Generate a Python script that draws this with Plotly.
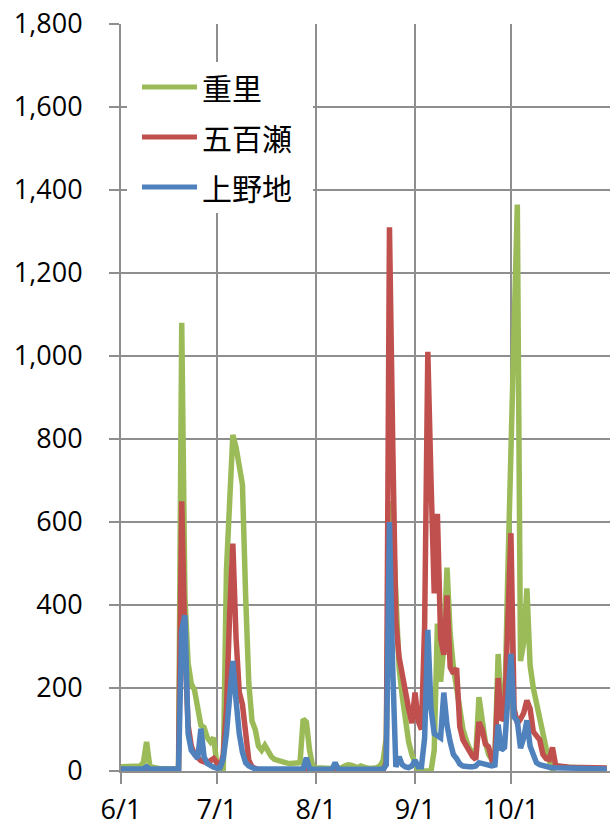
import pandas as pd
import plotly.graph_objects as go

# Daily flow at three stations, 6/1 - 10/31
start_date = "2013-06-01"
n_days = 153

series_names = ["重里", "五百瀬", "上野地"]
series_colors = ["#9BBB59", "#C0504D", "#4F81BD"]

shigesato = [
    10, 10, 10, 11, 11, 12, 12, 20, 70, 12,
    8, 7, 6, 6, 5, 5, 5, 5, 5, 1080,
    420, 260, 210, 195, 150, 110, 105, 80, 70, 80,
    15, 0, 5, 485, 650, 810, 780, 740, 690, 420,
    210, 120, 100, 60, 50, 62, 45, 35, 28, 25,
    22, 20, 19, 18, 18, 18, 20, 125, 118, 50,
    10, 8, 7, 7, 6, 6, 6, 7, 6, 8,
    12, 15, 14, 10, 8, 12, 8, 7, 6, 6,
    8, 12, 25, 80, 650, 600, 420, 250, 180, 120,
    70, 40, 15, 0, 0, 0, 0, 0, 50, 355,
    215, 300, 490, 330, 250, 200, 140, 100, 75, 55,
    45, 40, 178, 120, 70, 40, 28, 40, 282, 140,
    125, 470, 760, 1060, 1365, 265, 310, 440, 255, 200,
    160, 120, 88, 55, 25, 2, 12, 10, 10, 9,
    9, 8, 8, 8, 7, 7, 7, 6, 6, 6,
    6, 5, 5,
]

iose = [
    3, 3, 3, 3, 3, 3, 3, 3, 0, 3,
    3, 3, 3, 3, 3, 3, 3, 3, 3, 650,
    300, 110, 60, 40, 30, 25, 22, 20, 25, 30,
    20, 8, 40, 150, 380, 548, 320, 190, 160, 75,
    25, 10, 5, 3, 3, 3, 3, 2, 2, 2,
    2, 2, 2, 2, 2, 2, 2, 2, 2, 2,
    2, 2, 2, 2, 2, 2, 2, 2, 2, 2,
    2, 2, 2, 2, 2, 2, 2, 2, 2, 2,
    2, 2, 2, 20, 1310, 800, 360, 275, 230, 190,
    150, 115, 189, 120, 100, 350, 1010, 700, 428, 620,
    320, 280, 423, 250, 235, 248, 107, 75, 60, 50,
    35, 28, 118, 100, 65, 58, 28, 35, 224, 122,
    130, 350, 573, 150, 115, 125, 140, 170, 150, 95,
    85, 75, 40, 30, 28, 57, 13, 11, 10, 10,
    9, 9, 9, 8, 8, 8, 8, 8, 7, 7,
    7, 7, 7,
]

uenoji = [
    5, 5, 5, 5, 5, 5, 5, 5, 10, 5,
    5, 5, 5, 5, 5, 5, 5, 5, 5, 340,
    375, 90, 50, 40, 30, 102, 34, 18, 12, 9,
    7, 8, 30, 90, 180, 265, 170, 90, 45, 20,
    12, 8, 5, 5, 5, 5, 5, 5, 5, 5,
    5, 5, 5, 5, 5, 5, 5, 5, 32, 6,
    4, 4, 4, 4, 4, 4, 4, 20, 4, 4,
    4, 4, 4, 4, 4, 4, 4, 4, 4, 4,
    4, 4, 4, 15, 600, 250, 10, 34, 15, 10,
    8, 12, 26, 10, 10, 80, 340, 150, 90, 85,
    80, 189, 110, 70, 40, 30, 17, 12, 10, 10,
    10, 12, 20, 18, 15, 14, 12, 14, 112, 50,
    57, 170, 282, 130, 120, 55, 80, 122, 60, 40,
    20, 15, 12, 10, 9, 8, 8, 8, 7, 7,
    7, 7, 6, 6, 6, 6, 6, 6, 5, 5,
    5, 5, 5,
]

tick_dates = ["2013-06-01", "2013-07-01", "2013-08-01", "2013-09-01", "2013-10-01"]
tick_labels = ["6/1", "7/1", "8/1", "9/1", "10/1"]
y_ticks = [0, 200, 400, 600, 800, 1000, 1200, 1400, 1600, 1800]

dates = pd.date_range(start_date, periods=n_days, freq="D")
values = [shigesato, iose, uenoji]

fig = go.Figure()
for name, color, vals in zip(series_names, series_colors, values):
    fig.add_trace(go.Scatter(
        x=dates, y=vals, name=name, mode="lines",
        line=dict(color=color, width=5.5),
        showlegend=False, hoverinfo="skip",
    ))

grid_color = "#8E8E8E"
tick_font = dict(family="Open Sans, Liberation Sans, sans-serif", size=27, color="#000000")

fig.update_xaxes(
    type="date",
    range=["2013-06-01", "2013-11-01"],
    tickmode="array", tickvals=tick_dates, ticktext=tick_labels,
    showgrid=True, gridcolor=grid_color, gridwidth=2,
    ticks="outside", ticklen=11, tickwidth=2, tickcolor=grid_color,
    showline=True, linecolor=grid_color, linewidth=2,
    tickfont=tick_font, ticklabelstandoff=3,
    zeroline=False, fixedrange=True, automargin=False,
)
fig.update_yaxes(
    range=[0, 1800],
    tickmode="array", tickvals=y_ticks, tickformat=",",
    showgrid=True, gridcolor=grid_color, gridwidth=2,
    ticks="outside", ticklen=10, tickwidth=2, tickcolor=grid_color,
    showline=True, linecolor=grid_color, linewidth=2,
    tickfont=tick_font, ticklabelstandoff=21,
    zeroline=False, fixedrange=True, automargin=False,
)

# Legend box drawn by hand: white panel, line samples and station names
legend_shapes = [dict(
    type="rect", xref="paper", yref="paper",
    x0=0.0123, x1=0.3926, y0=0.747, y1=0.949,
    fillcolor="white", line=dict(width=0), layer="above",
)]
legend_rows = [0.9157, 0.8487, 0.7818]
legend_notes = []
for name, color, yrow in zip(series_names, series_colors, legend_rows):
    legend_shapes.append(dict(
        type="line", xref="paper", yref="paper",
        x0=0.0429, x1=0.1554, y0=yrow, y1=yrow,
        line=dict(color=color, width=5), layer="above",
    ))
    legend_notes.append(dict(
        xref="paper", yref="paper", x=0.161, y=yrow,
        xanchor="left", yanchor="middle", showarrow=False,
        text=name,
        font=dict(family="Noto Sans CJK JP", size=30, color="#000000"),
    ))

fig.update_layout(
    width=610, height=826,
    margin=dict(l=121, r=0, t=24, b=55),
    paper_bgcolor="white", plot_bgcolor="white",
    shapes=legend_shapes, annotations=legend_notes,
    showlegend=False,
)

fig.write_html("out.html", config={"displayModeBar": False, "staticPlot": True})
